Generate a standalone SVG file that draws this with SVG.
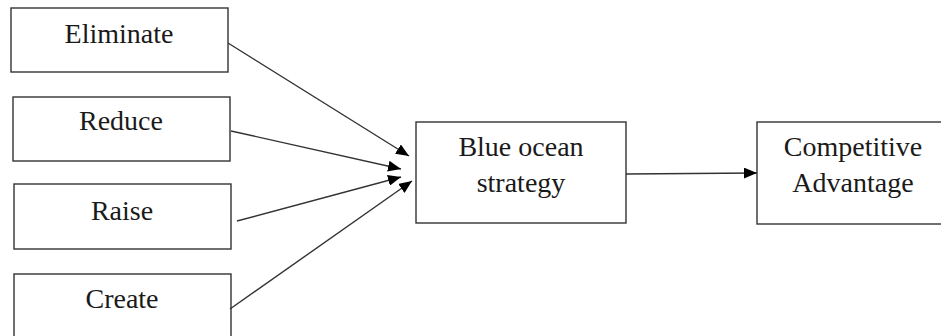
<svg xmlns="http://www.w3.org/2000/svg" width="941" height="336" viewBox="0 0 941 336">
<style>
.box{fill:#fff;stroke:#333;stroke-width:1.4}
.lbl{font-family:"Liberation Serif","Times New Roman",serif;font-size:28px;fill:#1a1a1a;text-anchor:middle}
.conn{stroke:#333;stroke-width:1.4;fill:none;marker-end:url(#ah)}
</style>
<defs>
<marker id="ah" markerUnits="userSpaceOnUse" markerWidth="13" markerHeight="11" refX="13" refY="5.5" orient="auto">
<path d="M0,0 L13,5.5 L0,11 Z" fill="#000"/>
</marker>
</defs>
<rect width="941" height="336" fill="#fff"/>
<g id="eliminate"><rect class="box" x="11" y="8" width="217" height="64"/><text class="lbl" x="119" y="43">Eliminate</text></g>
<g id="reduce"><rect class="box" x="13" y="97" width="217" height="64"/><text class="lbl" x="121" y="130">Reduce</text></g>
<g id="raise"><rect class="box" x="14" y="184" width="217" height="65"/><text class="lbl" x="122" y="220">Raise</text></g>
<g id="create"><rect class="box" x="14" y="274" width="217" height="66"/><text class="lbl" x="122" y="308">Create</text></g>
<g id="blue-ocean"><rect class="box" x="416" y="122" width="210" height="101"/><text class="lbl" x="521" y="156">Blue ocean</text><text class="lbl" x="521" y="192">strategy</text></g>
<g id="competitive"><rect class="box" x="757" y="122" width="192" height="102"/><text class="lbl" x="853" y="156">Competitive</text><text class="lbl" x="853" y="192">Advantage</text></g>
<g id="connectors">
<line class="conn" x1="228" y1="43" x2="409" y2="156"/>
<line class="conn" x1="231" y1="131" x2="401" y2="169"/>
<line class="conn" x1="237" y1="221" x2="401" y2="177"/>
<line class="conn" x1="230" y1="309" x2="412" y2="181"/>
<line class="conn" x1="626" y1="174" x2="757" y2="173"/>
</g>
</svg>
